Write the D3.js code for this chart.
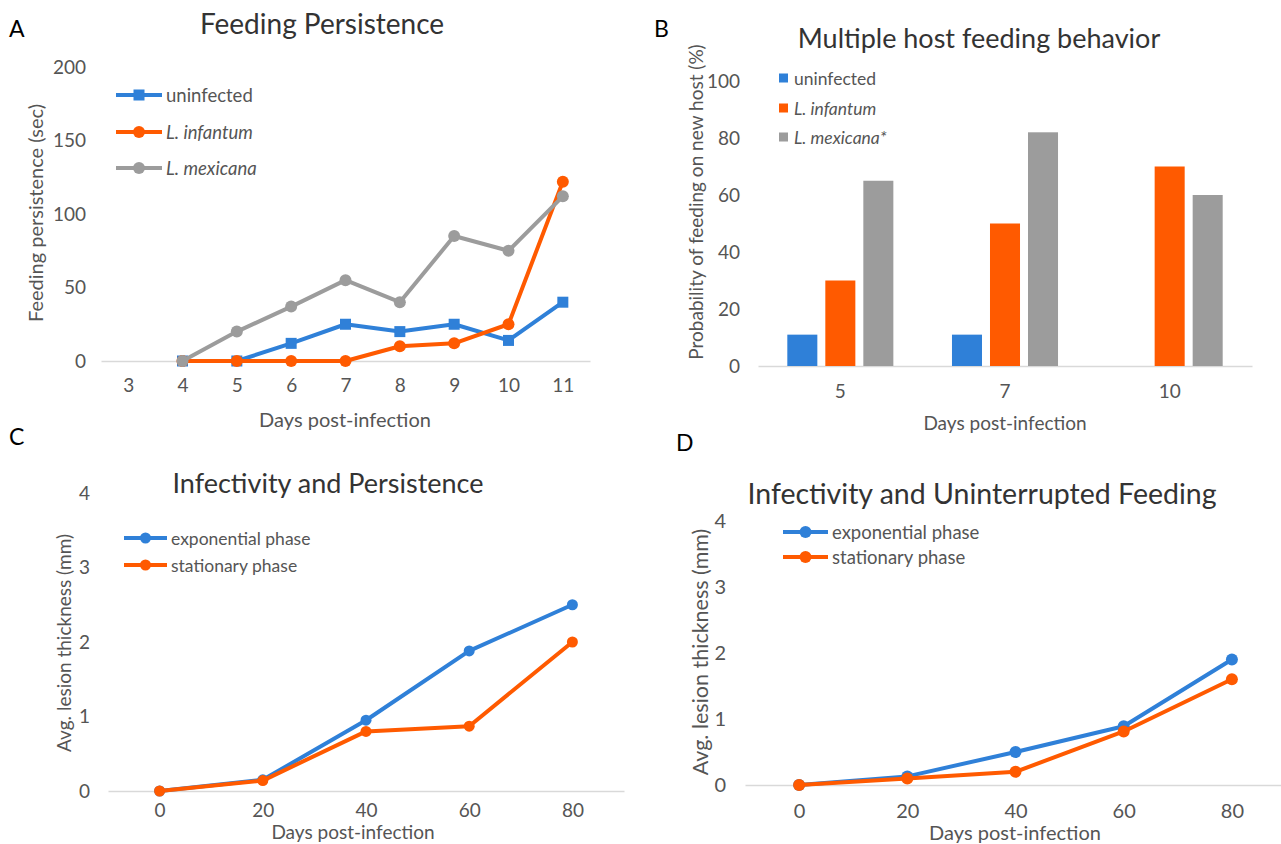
<!DOCTYPE html>
<html>
<head>
<meta charset="utf-8">
<script src="https://cdn.jsdelivr.net/npm/d3@7"></script>
<style>
body { margin: 0; background: #fff; }
text { font-family: Lato, "Open Sans", sans-serif; }
</style>
</head>
<body>
<div id="chart"></div>
<script>
// A - feeding persistence
var daysA = ["3","4","5","6","7","8","9","10","11"];
var uninfectedA = [null, 0, 0, 12, 25, 20, 25, 14, 40];
var infantumA = [null, 0, 0, 0, 0, 10, 12, 25, 122];
var mexicanaA = [null, 0, 20, 37, 55, 40, 85, 75, 112];
var ticksA = [0, 50, 100, 150, 200];

// B - multiple host feeding
var daysB = ["5", "7", "10"];
var seriesB = ["uninfected", "L. infantum", "L. mexicana*"];
var uninfectedB = [11, 11, 0];
var infantumB = [30, 50, 70];
var mexicanaB = [65, 82, 60];
var ticksB = [0, 20, 40, 60, 80, 100];

// C and D - lesion thickness
var daysCD = ["0", "20", "40", "60", "80"];
var exponentialC = [0, 0.15, 0.95, 1.88, 2.5];
var stationaryC = [0, 0.14, 0.8, 0.87, 2.0];
var exponentialD = [0, 0.13, 0.5, 0.89, 1.9];
var stationaryD = [0, 0.1, 0.2, 0.81, 1.6];
var ticksCD = [0, 1, 2, 3, 4];

var blue = "#2f80d8", orange = "#ff5a00", gray = "#9c9c9c";
var tickColor = "#555", titleColor = "#333";

var svg = d3.select("#chart").append("svg")
    .attr("width", 1281).attr("height", 844)
    .style("background", "#ffffff");

function marker(g, shape, cx, cy, color, size) {
    if (shape == "square") {
        g.append("rect")
            .attr("x", cx - size).attr("y", cy - size)
            .attr("width", size * 2).attr("height", size * 2)
            .attr("fill", color);
    } else {
        g.append("circle").attr("cx", cx).attr("cy", cy).attr("r", size).attr("fill", color);
    }
}

function styleAxis(a, size) {
    a.select(".domain").attr("stroke", "#d9d9d9").attr("stroke-width", 1.5);
    a.selectAll("text").attr("font-size", size).attr("fill", tickColor)
        .style("font-family", "Lato, 'Open Sans', sans-serif");
}

function frame(o) {
    svg.append("text").attr("x", o.letter[0]).attr("y", o.letter[1])
        .attr("font-size", 23).attr("fill", "#000").attr("dominant-baseline", "central")
        .text(o.letterText);
    svg.append("text").attr("x", o.title[0]).attr("y", o.title[1])
        .attr("font-size", o.titleSize).attr("fill", titleColor)
        .attr("text-anchor", "middle").attr("dominant-baseline", "central")
        .text(o.titleText);
    svg.append("text").attr("x", o.xTitle[0]).attr("y", o.xTitle[1])
        .attr("font-size", o.labelSize).attr("fill", tickColor)
        .attr("text-anchor", "middle").attr("dominant-baseline", "central")
        .text("Days post-infection");
    svg.append("text")
        .attr("transform", "translate(" + o.yTitle[0] + "," + o.yTitle[1] + ") rotate(-90)")
        .attr("font-size", o.yLabelSize || o.labelSize).attr("fill", tickColor)
        .attr("text-anchor", "middle").attr("dominant-baseline", "central")
        .text(o.yTitleText);
}

function linePanel(o) {
    frame(o);
    var x = d3.scalePoint().domain(o.days).range([o.x0, o.x1]).padding(0.5);
    var y = d3.scaleLinear().domain([0, o.yMax]).range([o.y0, o.y1]);

    var ax = svg.append("g").attr("transform", "translate(0," + o.y0 + ")")
        .call(d3.axisBottom(x).tickSize(0).tickSizeOuter(0).tickPadding(o.xPad));
    styleAxis(ax, o.tickSize);
    var ay = svg.append("g").attr("transform", "translate(" + o.x0 + ",0)")
        .call(d3.axisLeft(y).tickValues(o.ticks).tickFormat(d3.format("d"))
            .tickSize(0).tickPadding(o.yPad));
    ay.select(".domain").remove();
    styleAxis(ay, o.tickSize);

    o.series.forEach(function (s) {
        var pts = s.values.map(function (v, i) { return {d: o.days[i], v: v}; });
        var line = d3.line()
            .defined(function (p) { return p.v != null; })
            .x(function (p) { return x(p.d); })
            .y(function (p) { return y(p.v); });
        var g = svg.append("g");
        g.append("path").datum(pts).attr("d", line)
            .attr("fill", "none").attr("stroke", s.color)
            .attr("stroke-width", 4).attr("stroke-linejoin", "round");
        pts.forEach(function (p) {
            if (p.v != null) marker(g, s.shape, x(p.d), y(p.v), s.color, s.size);
        });
    });

    // legend
    o.series.forEach(function (s, i) {
        var ly = o.legend.y[i];
        var g = svg.append("g");
        g.append("line").attr("x1", o.legend.x0).attr("x2", o.legend.x1)
            .attr("y1", ly).attr("y2", ly).attr("stroke", s.color).attr("stroke-width", 4);
        marker(g, s.shape, (o.legend.x0 + o.legend.x1) / 2, ly, s.color, s.size);
        g.append("text").attr("x", o.legend.x1 + 4).attr("y", ly)
            .attr("font-size", o.legend.size).attr("fill", tickColor)
            .attr("dominant-baseline", "central")
            .attr("font-style", s.italic ? "italic" : "normal")
            .text(s.name);
    });
}

// panel A
linePanel({
    letterText: "A", letter: [9, 28],
    titleText: "Feeding Persistence", title: [322, 23], titleSize: 28,
    xTitle: [345, 419], yTitle: [35, 213], yTitleText: "Feeding persistence (sec)",
    labelSize: 20, tickSize: 19,
    days: daysA, x0: 101, x1: 590, y0: 361, y1: 67, yMax: 200, ticks: ticksA,
    xPad: 18, yPad: 15,
    series: [
        {name: "uninfected", values: uninfectedA, color: blue, shape: "square", size: 5.5},
        {name: "L. infantum", values: infantumA, color: orange, shape: "circle", size: 6, italic: true},
        {name: "L. mexicana", values: mexicanaA, color: gray, shape: "circle", size: 6, italic: true}
    ],
    legend: {x0: 116, x1: 162, y: [95, 132, 168], size: 18.5}
});

// panel C
linePanel({
    letterText: "C", letter: [9, 436],
    titleText: "Infectivity and Persistence", title: [328, 482], titleSize: 27,
    xTitle: [353, 831], yTitle: [63, 643], yTitleText: "Avg. lesion thickness (mm)",
    labelSize: 19, tickSize: 19,
    days: daysCD, x0: 108, x1: 624, y0: 791, y1: 493, yMax: 4, ticks: ticksCD,
    xPad: 13, yPad: 18,
    series: [
        {name: "exponential phase", values: exponentialC, color: blue, shape: "circle", size: 5.5},
        {name: "stationary phase", values: stationaryC, color: orange, shape: "circle", size: 5.5}
    ],
    legend: {x0: 124, x1: 167, y: [538, 565], size: 17.5}
});

// panel D
linePanel({
    letterText: "D", letter: [676, 442],
    titleText: "Infectivity and Uninterrupted Feeding", title: [982, 493], titleSize: 28.5,
    xTitle: [1015, 832], yTitle: [700, 652], yTitleText: "Avg. lesion thickness (mm)",
    labelSize: 20, yLabelSize: 21.5, tickSize: 20,
    days: daysCD, x0: 745, x1: 1286, y0: 785, y1: 520.7, yMax: 4, ticks: ticksCD,
    xPad: 19, yPad: 19,
    series: [
        {name: "exponential phase", values: exponentialD, color: blue, shape: "circle", size: 6},
        {name: "stationary phase", values: stationaryD, color: orange, shape: "circle", size: 6}
    ],
    legend: {x0: 783, x1: 828, y: [532, 557], size: 18.5}
});

// panel B - grouped bars
frame({
    letterText: "B", letter: [654, 28],
    titleText: "Multiple host feeding behavior", title: [979, 37], titleSize: 27,
    xTitle: [1005, 422], yTitle: [695, 202], yTitleText: "Probability of feeding on new host (%)",
    labelSize: 19
});
var x0B = d3.scaleBand().domain(daysB).range([758, 1252]).paddingInner(0.356).paddingOuter(0.178);
var x1B = d3.scaleBand().domain(seriesB).range([0, x0B.bandwidth()]).paddingInner(0.21);
var yB = d3.scaleLinear().domain([0, 100]).range([366, 81]);
var colorB = d3.scaleOrdinal().domain(seriesB).range([blue, orange, gray]);
var valuesB = [uninfectedB, infantumB, mexicanaB];

var axB = svg.append("g").attr("transform", "translate(0,366)")
    .call(d3.axisBottom(x0B).tickSize(0).tickSizeOuter(0).tickPadding(19));
styleAxis(axB, 19);
var ayB = svg.append("g").attr("transform", "translate(758,0)")
    .call(d3.axisLeft(yB).tickValues(ticksB).tickSize(0).tickPadding(18));
ayB.select(".domain").remove();
styleAxis(ayB, 19);

var barData = [];
daysB.forEach(function (d, i) {
    seriesB.forEach(function (s, j) {
        barData.push({day: d, series: s, value: valuesB[j][i]});
    });
});
svg.append("g").selectAll("rect").data(barData).enter()
    .append("rect")
    .attr("x", function (d) { return x0B(d.day) + x1B(d.series); })
    .attr("y", function (d) { return yB(d.value); })
    .attr("width", x1B.bandwidth())
    .attr("height", function (d) { return yB(0) - yB(d.value); })
    .attr("fill", function (d) { return colorB(d.series); });

var legB = [78, 108, 137];
seriesB.forEach(function (s, i) {
    svg.append("rect").attr("x", 779).attr("y", legB[i] - 4.5)
        .attr("width", 9).attr("height", 9).attr("fill", colorB(s));
    svg.append("text").attr("x", 794).attr("y", legB[i])
        .attr("font-size", 17.5).attr("fill", tickColor)
        .attr("dominant-baseline", "central")
        .attr("font-style", i > 0 ? "italic" : "normal")
        .text(s);
});
</script>
</body>
</html>
